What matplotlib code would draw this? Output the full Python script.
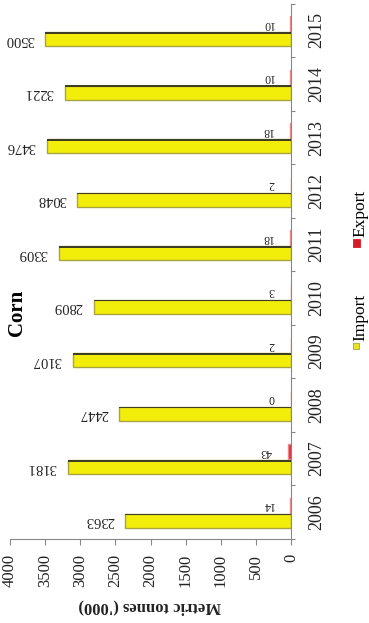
import matplotlib.pyplot as plt
from matplotlib.patches import Rectangle
import numpy as np

plt.rcParams['font.family'] = ['Liberation Serif', 'DejaVu Serif']

years = ['2006', '2007', '2008', '2009', '2010', '2011', '2012', '2013', '2014', '2015']
imports = [2363, 3181, 2447, 3107, 2809, 3309, 3048, 3476, 3221, 3500]
exports = [14, 43, 0, 2, 3, 18, 2, 18, 10, 10]
value_ticks = [0, 500, 1000, 1500, 2000, 2500, 3000, 3500, 4000]

fig = plt.figure(figsize=(3.69, 6.23), dpi=100)
ax = fig.add_axes([0.027, 0.135, 0.762, 0.859])

y = np.arange(len(years))

# yellow import bars with a dark top strip (fake 3d look)
ax.barh(y - 0.16, imports, height=0.26, color='#f2ee0a', edgecolor='#a8a440', linewidth=1.0, zorder=2)
ax.barh(y - 0.045, imports, height=0.035, color='#3e3d26', linewidth=0, zorder=3)
# red export bars
ax.barh(y + 0.13, exports, height=0.28, color='#e5202b', edgecolor='#f08a8a', linewidth=1.0, zorder=2)

for i in range(len(years)):
    ax.annotate(str(imports[i]), xy=(imports[i], y[i] - 0.16), xytext=(-8, 0),
                textcoords='offset points', ha='right', va='center', rotation=180,
                fontsize=10.5, color='#222222')
    ax.annotate(str(exports[i]), xy=(exports[i], y[i] + 0.13), xytext=(-12, 0),
                textcoords='offset points', ha='right', va='center', rotation=180,
                fontsize=8.5, color='#222222')

ax.set_xlim(4000, 0)
ax.set_ylim(-0.5, len(years) - 0.5)

ax.set_xticks(value_ticks)
ax.set_xticklabels([str(v) for v in value_ticks], rotation=90, fontsize=12, color='#222222')
ax.tick_params(axis='x', direction='out', length=4, width=0.8, color='#888888', pad=7)

ax.yaxis.tick_right()
ax.set_yticks(y)
ax.set_yticklabels(years, rotation=90, va='center', fontsize=13, color='#222222')
ax.set_yticks(np.arange(len(years) + 1) - 0.5, minor=True)
ax.tick_params(axis='y', which='major', length=0, pad=12)
ax.tick_params(axis='y', which='minor', direction='out', length=3, width=0.8, color='#888888')

ax.spines['top'].set_visible(False)
ax.spines['left'].set_visible(False)
ax.spines['right'].set_color('#888888')
ax.spines['bottom'].set_color('#888888')

fig.text(0.407, 0.026, "Metric tonnes ('000)", rotation=180, ha='center', va='center',
         fontsize=12, fontweight='bold', color='#222222')
fig.text(0.045, 0.497, 'Corn', rotation=90, ha='center', va='center',
         fontsize=15, fontweight='bold')

# legend, rotated like the rest of the chart
fig.patches.append(Rectangle((353 / 369, 1 - 349 / 623), 6 / 369, 6 / 623,
                             transform=fig.transFigure, facecolor='#e8e420', edgecolor='#a8a440', lw=0.6))
fig.text(360 / 369, 1 - 317 / 623, 'Import', rotation=90, ha='center', va='center', fontsize=12.5)
fig.patches.append(Rectangle((353 / 369, 1 - 247 / 623), 7 / 369, 8 / 623,
                             transform=fig.transFigure, facecolor='#d81a25', edgecolor='#d81a25', lw=0.6))
fig.text(360 / 369, 1 - 213 / 623, 'Export', rotation=90, ha='center', va='center', fontsize=12.5)

fig.savefig('out.png', dpi=100)
